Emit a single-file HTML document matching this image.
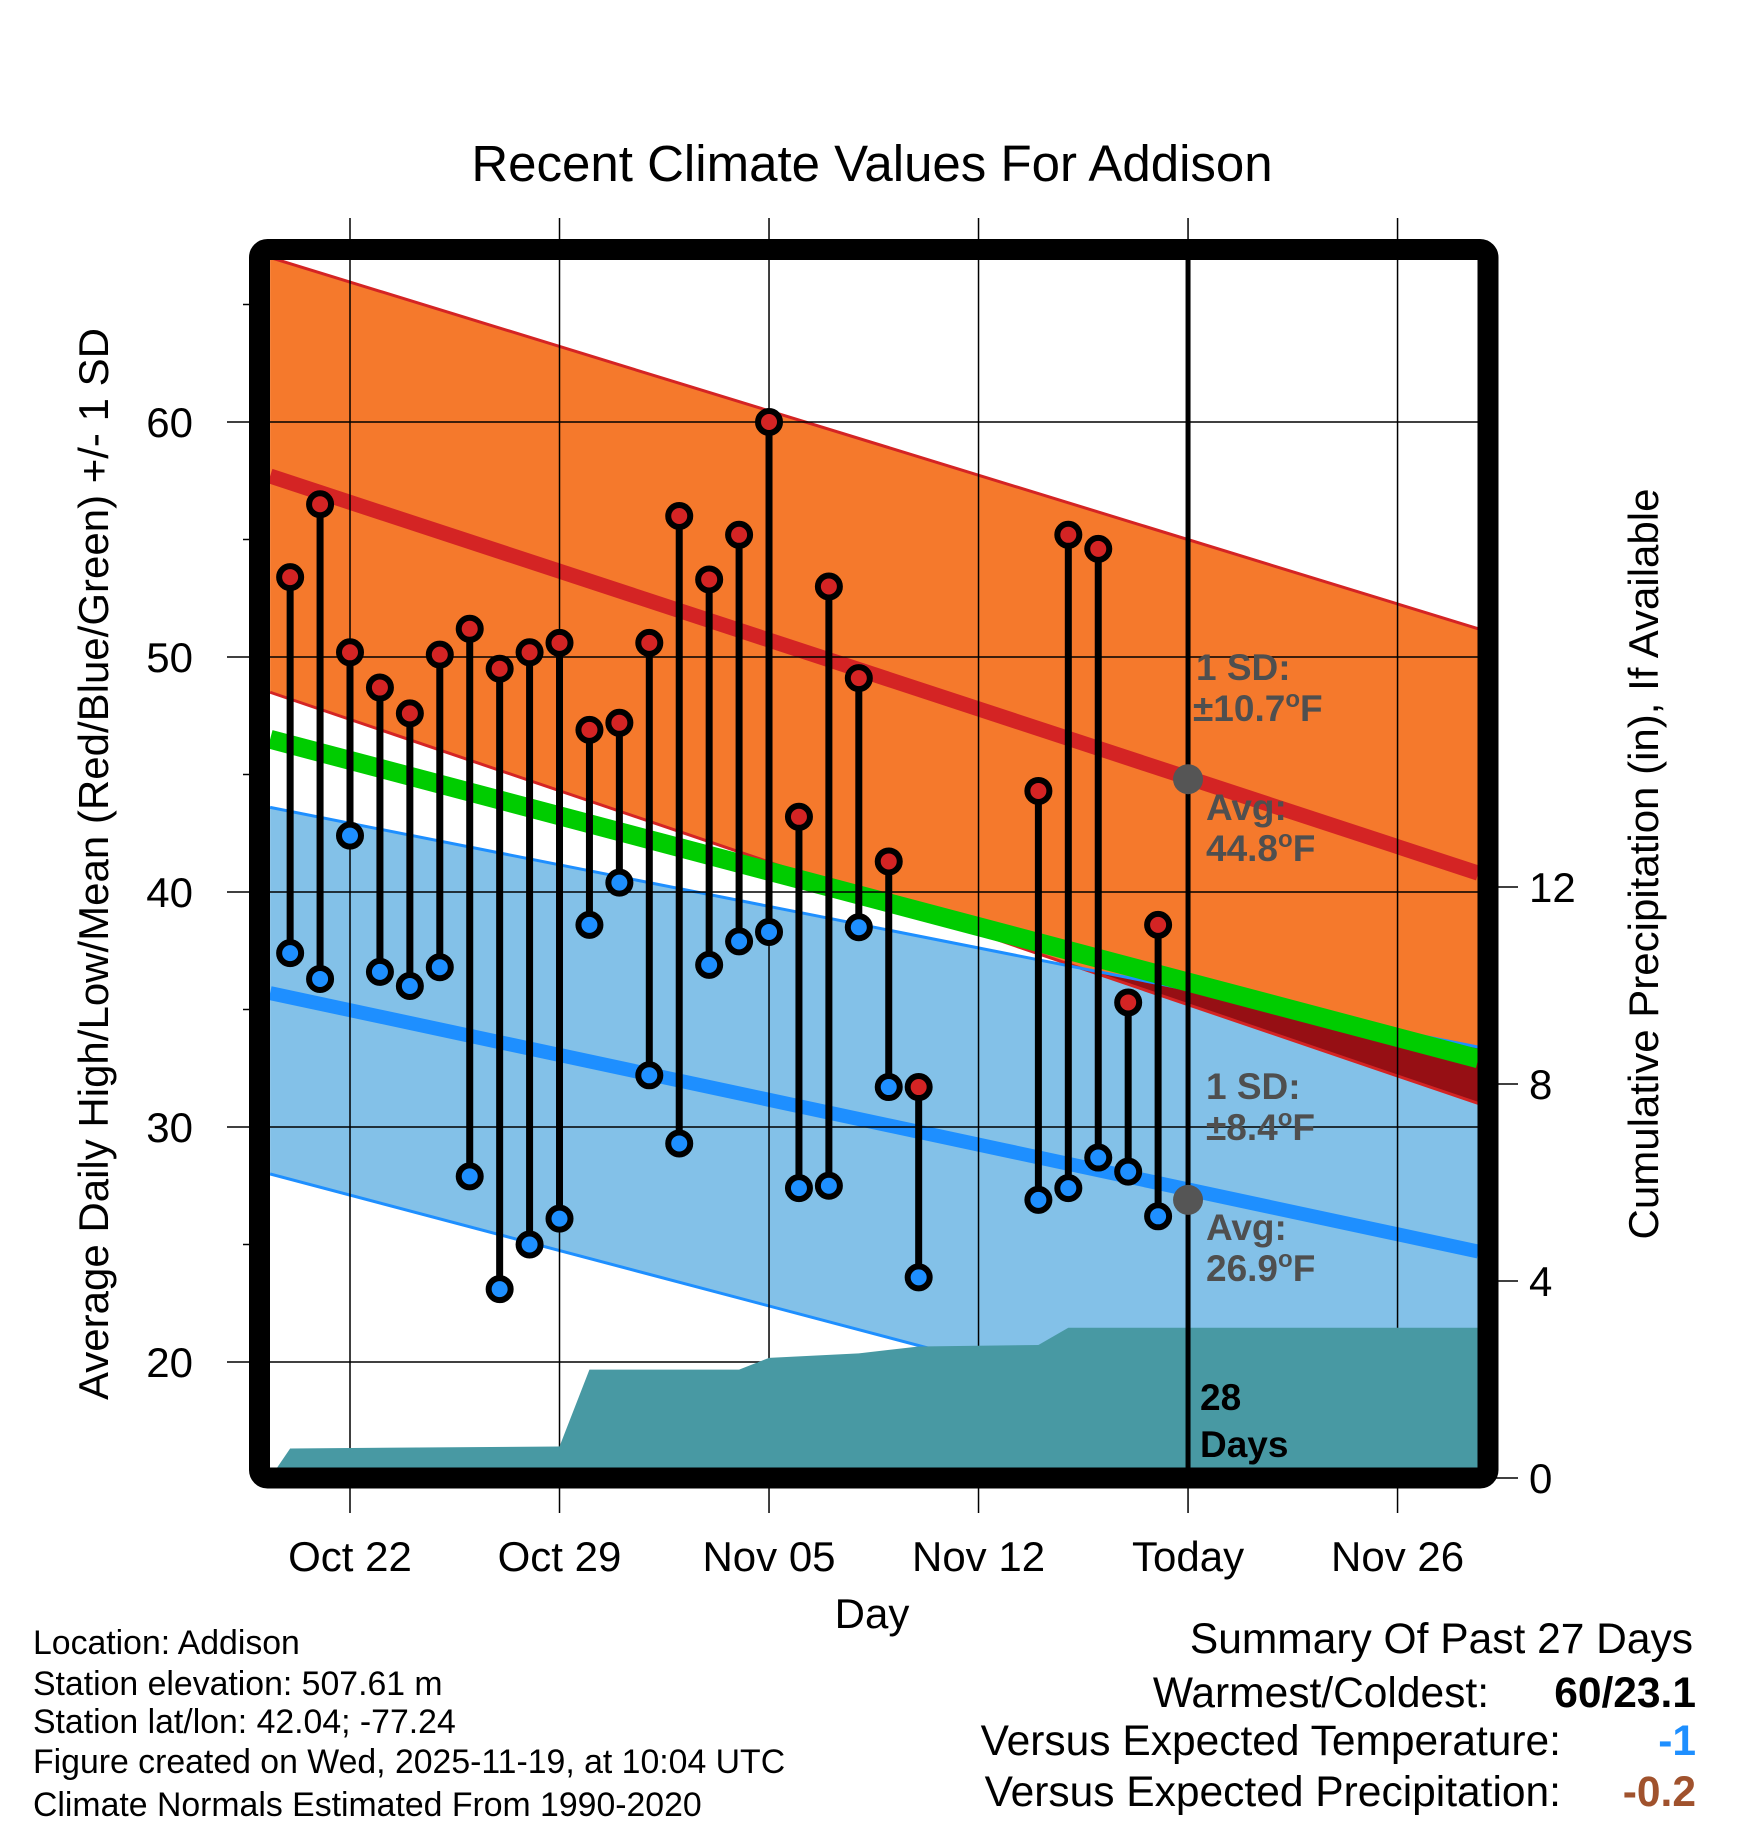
<!DOCTYPE html>
<html><head><meta charset="utf-8"><style>
html,body{margin:0;padding:0;background:#fff}
svg{display:block;font-family:"Liberation Sans",Arial,sans-serif}
</style></head><body>
<svg id="chart" width="1748" height="1828" viewBox="0 0 1748 1828" xmlns="http://www.w3.org/2000/svg">
<defs><clipPath id="plotclip"><rect x="270" y="260" width="1208" height="1208"/></clipPath></defs>
<g id="bands" clip-path="url(#plotclip)"></g>
<g id="grid"></g>
<g id="marks" clip-path="url(#plotclip)"></g>
<g id="axes"></g>
<text x="872" y="181" font-size="51" text-anchor="middle">Recent Climate Values For Addison</text>
<text x="872" y="1628" font-size="42" text-anchor="middle">Day</text>
<text transform="translate(108,864) rotate(-90)" font-size="42" text-anchor="middle">Average Daily High/Low/Mean (Red/Blue/Green) +/- 1 SD</text>
<text transform="translate(1658,864) rotate(-90)" font-size="42" text-anchor="middle">Cumulative Precipitation (in), If Available</text>
<g font-size="33.8">
<text x="33" y="1654">Location: Addison</text>
<text x="33" y="1695">Station elevation: 507.61 m</text>
<text x="33" y="1733">Station lat/lon: 42.04; -77.24</text>
<text x="33" y="1773">Figure created on Wed, 2025-11-19, at 10:04 UTC</text>
<text x="33" y="1816">Climate Normals Estimated From 1990-2020</text>
</g>
<g font-size="42.5" text-anchor="end">
<text x="1693" y="1653">Summary Of Past 27 Days</text>
<text x="1489" y="1707">Warmest/Coldest:</text>
<text x="1696" y="1707" font-weight="bold">60/23.1</text>
<text x="1561" y="1755">Versus Expected Temperature:</text>
<text x="1696" y="1755" font-weight="bold" fill="#1e8fff">-1</text>
<text x="1561" y="1806">Versus Expected Precipitation:</text>
<text x="1696" y="1806" font-weight="bold" fill="#a0522d">-0.2</text>
</g>
</svg>
<script>
// day offsets from Oct 22
const obsDays = [-2,-1,0,1,2,3,4,5,6,7,8,9,10,11,12,13,14,15,16,17,18,19,23,24,25,26,27];
const highs = [53.4,56.5,50.2,48.7,47.6,50.1,51.2,49.5,50.2,50.6,46.9,47.2,50.6,56.0,53.3,55.2,60.0,43.2,53.0,49.1,41.3,31.7,44.3,55.2,54.6,35.3,38.6];
const lows = [37.4,36.3,42.4,36.6,36.0,36.8,27.9,23.1,25.0,26.1,38.6,40.4,32.2,29.3,36.9,37.9,38.3,27.4,27.5,38.5,31.7,23.6,26.9,27.4,28.7,28.1,26.2];
const precipDays = [-2.67,-2,7,8,13,14,17,19,23,24,37.7];
const precipVals = [0,0.6,0.64,2.2,2.2,2.44,2.53,2.67,2.7,3.05,3.05];
const normDays = [-2.67,37.7];
const hiUpper = [67.0,51.2];
const hiAvg = [57.7,40.8];
const hiLower = [48.5,31.0];
const meanAvg = [46.5,32.9];
const loUpper = [43.6,33.4];
const loAvg = [35.7,24.7];
const loLower = [28.0,14.4];
const xTickDays = [0,7,14,21,28,35];
const xTickLabels = ['Oct 22','Oct 29','Nov 05','Nov 12','Today','Nov 26'];
const yTicks = [20,30,40,50,60];
const yMinor = [25,35,45,55,65];
const pTicks = [0,4,8,12];
const todayDay = 28;
const todayHi = 44.8, todayLo = 26.9;

const NS='http://www.w3.org/2000/svg';
const X = d => 350 + 29.93*d;
const Y = t => 1362 - (t-20)*23.5;
const P = p => 1478 - p*49.25;
function mk(tag, attrs, parent){const e=document.createElementNS(NS,tag);for(const k in attrs)e.setAttribute(k,attrs[k]);parent.appendChild(e);return e;}
const bands=document.getElementById('bands'), grid=document.getElementById('grid'), marks=document.getElementById('marks'), axes=document.getElementById('axes');
function bandPts(up,lo){return `${X(normDays[0])},${Y(up[0])} ${X(normDays[1])},${Y(up[1])} ${X(normDays[1])},${Y(lo[1])} ${X(normDays[0])},${Y(lo[0])}`;}
function line(v,color,w,name){const l=mk('line',{x1:X(normDays[0]),y1:Y(v[0]),x2:X(normDays[1]),y2:Y(v[1]),stroke:color,'stroke-width':w},bands);

}
let e;
e=mk('polygon',{points:bandPts(hiUpper,hiLower),fill:'#f5792c'},bands);


e=mk('polygon',{points:bandPts(loUpper,loLower),fill:'#83c1e8'},bands);


const cp=mk('clipPath',{id:'hiclip'},bands);
mk('polygon',{points:bandPts(hiUpper,hiLower)},cp);
e=mk('polygon',{points:bandPts(loUpper,loLower),fill:'#960f14','clip-path':'url(#hiclip)'},bands);


line(hiUpper,'#d42424',3,'high-upper-line');
line(hiLower,'#d42424',3,'high-lower-line');
line(loUpper,'#1e8fff',3,'low-upper-line');
line(loLower,'#1e8fff',3,'low-lower-line');
line(hiAvg,'#d42424',15,'high-normal-line');
line(loAvg,'#1e8fff',14,'low-normal-line');
line(meanAvg,'#00cc00',19,'mean-normal-line');
// grid
yTicks.forEach(t=>{const g=mk('line',{x1:227,x2:1488,y1:Y(t),y2:Y(t),stroke:'#000','stroke-width':1.5},grid);


const tx=mk('text',{x:193,y:Y(t)+15,'font-size':42,'text-anchor':'end'},axes);tx.textContent=t;

});
yMinor.forEach(t=>{const g=mk('line',{x1:243,x2:259,y1:Y(t),y2:Y(t),stroke:'#000','stroke-width':1.5},axes);

});
xTickDays.forEach((d,i)=>{const g=mk('line',{x1:X(d),x2:X(d),y1:218,y2:1513,stroke:'#000','stroke-width':1.5},grid);


const tx=mk('text',{x:X(d),y:1571,'font-size':42,'text-anchor':'middle'},axes);tx.textContent=xTickLabels[i];

});
pTicks.forEach(p=>{const g=mk('line',{x1:1488,x2:1518,y1:P(p),y2:P(p),stroke:'#000','stroke-width':1.5},axes);


const tx=mk('text',{x:1529,y:P(p)+15,'font-size':42},axes);tx.textContent=p;

});
// sticks
obsDays.forEach((d,i)=>{const l=mk('line',{x1:X(d),x2:X(d),y1:Y(highs[i]),y2:Y(lows[i]),stroke:'#000','stroke-width':7},marks);

});
obsDays.forEach((d,i)=>{const c=mk('circle',{cx:X(d),cy:Y(highs[i]),r:11,fill:'#d42424',stroke:'#000','stroke-width':6},marks);


const c2=mk('circle',{cx:X(d),cy:Y(lows[i]),r:11,fill:'#1e8fff',stroke:'#000','stroke-width':6},marks);

});
// precip
let pts=precipDays.map((d,i)=>`${X(d)},${P(precipVals[i])}`);
pts.push(`${X(precipDays[precipDays.length-1])},1470`,`${X(precipDays[0])},1470`);
e=mk('polygon',{points:pts.join(' '),fill:'#4899a3'},marks);


// today
e=mk('line',{x1:X(todayDay),x2:X(todayDay),y1:260,y2:1470,stroke:'#000','stroke-width':5},marks);


[[todayHi,'today-high-normal-marker'],[todayLo,'today-low-normal-marker']].forEach(([v,n])=>{const c=mk('circle',{cx:X(todayDay),cy:Y(v),r:15,fill:'#555'},marks);

});
function lab(x,y,s,fill,name){const t=mk('text',{x:x,y:y,'font-size':37,'font-weight':'bold',fill:fill},marks);t.innerHTML=s;

}
lab(1196,680,'1 SD:','#4f4f4f','high-sd-label');
lab(1193,721,'±10.7<tspan dy="-14" font-size="24">o</tspan><tspan dy="14">F</tspan>','#4f4f4f','high-sd-value');
lab(1206,820,'Avg:','#4f4f4f','high-avg-label');
lab(1206,861,'44.8<tspan dy="-14" font-size="24">o</tspan><tspan dy="14">F</tspan>','#4f4f4f','high-avg-value');
lab(1206,1099,'1 SD:','#4f4f4f','low-sd-label');
lab(1206,1140,'±8.4<tspan dy="-14" font-size="24">o</tspan><tspan dy="14">F</tspan>','#4f4f4f','low-sd-value');
lab(1206,1240,'Avg:','#4f4f4f','low-avg-label');
lab(1206,1281,'26.9<tspan dy="-14" font-size="24">o</tspan><tspan dy="14">F</tspan>','#4f4f4f','low-avg-value');
lab(1200,1410,'28','#000','days-count');
lab(1200,1457,'Days','#000','days-label');
// frame
e=mk('rect',{x:259.5,y:249.5,width:1228.5,height:1228.5,rx:8,fill:'none',stroke:'#000','stroke-width':21},axes);


</script>
</body></html>
